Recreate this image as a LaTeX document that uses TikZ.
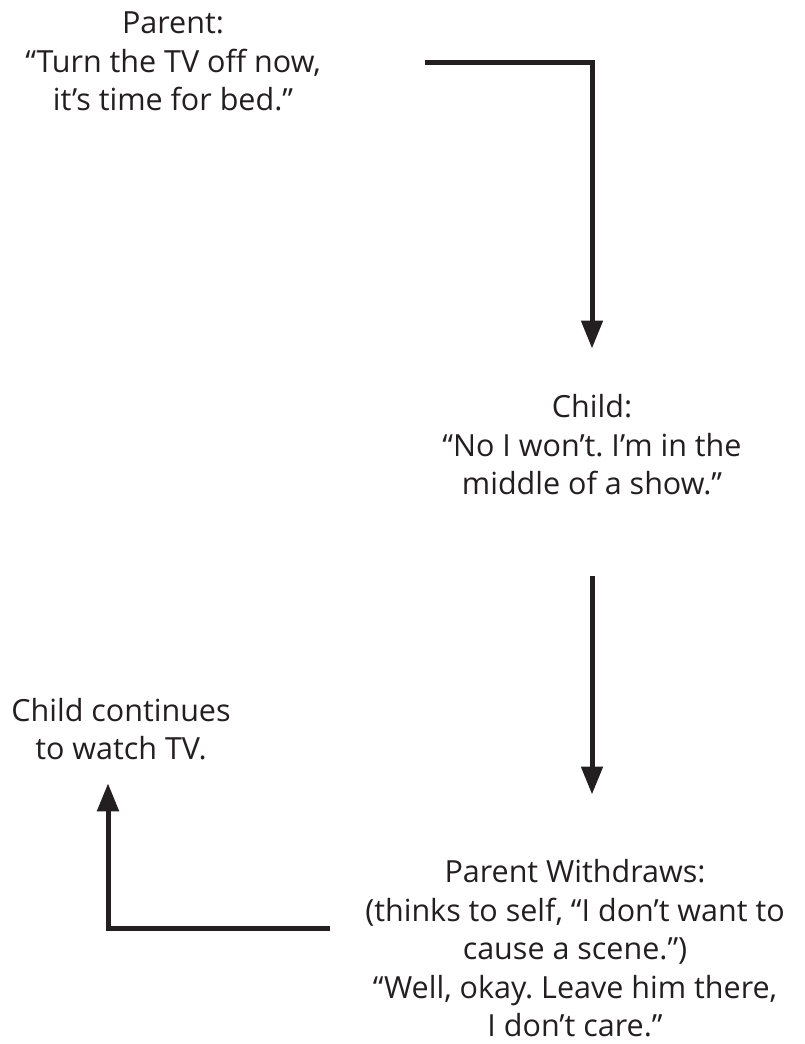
\documentclass[tikz,border=0pt]{standalone}
\usepackage{fontspec}
\setmainfont{Open Sans}[Ligatures={NoCommon}]
\usetikzlibrary{arrows.meta,positioning}
\definecolor{ink}{RGB}{35,31,32}
\frenchspacing

\begin{document}
\begin{tikzpicture}[
x=1pt,y=-1pt,
talk/.style={
  align=center,
  inner sep=0pt,
  text=ink,
  font=\fontsize{30.5}{38.5}\selectfont
},
arrow/.style={-{Triangle[length=28pt,width=21pt]},line width=5pt,draw=ink}
]
\useasboundingbox (0,0) rectangle (804,1044);
\node[talk] (parent) at (173,61.5) {Parent:\\“Turn the TV off now,\\it’s time for bed.”};
\node[talk] (child) at (592,445) {Child:\\“No I won’t. I’m in the\\middle of a show.”};
\node[talk] (withdraw) at (575,948.5) {Parent Withdraws:\\(thinks to self, “I don’t want to\\cause a scene.”)\\“Well, okay. Leave him there,\\I don’t care.”};
\node[talk] (continues) at (121,729) {Child continues\\to watch TV.};
\coordinate (p1) at (425,62);
\coordinate (w1) at (330,928);

\draw[arrow,shorten >=46pt] (p1) -| (child);
\draw[arrow,shorten <=80pt,shorten >=65pt] (child.south) -- (child.south |- withdraw.north);
\draw[arrow,shorten >=23pt] (w1) -| ([xshift=-13pt]continues.south);
\end{tikzpicture}
\end{document}
